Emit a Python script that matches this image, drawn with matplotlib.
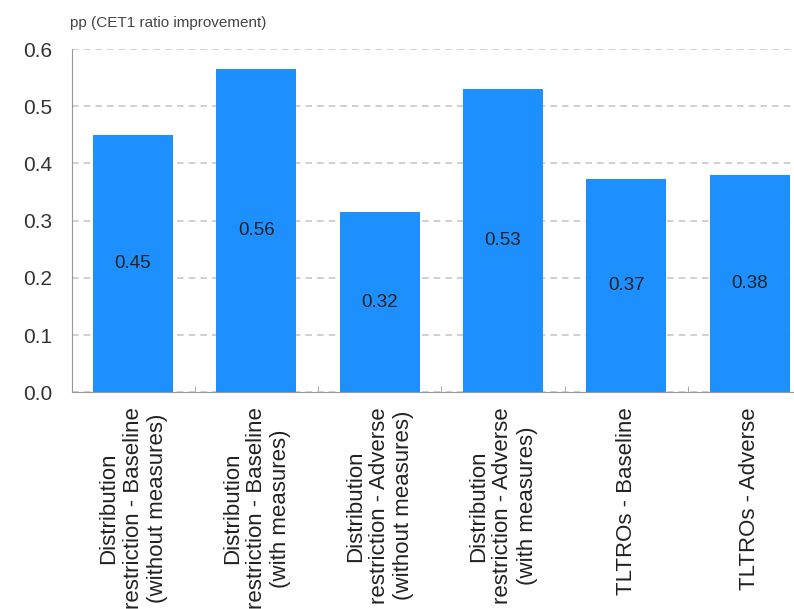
import matplotlib
matplotlib.use("Agg")
import matplotlib.pyplot as plt

plt.rcParams['font.family'] = ['Liberation Sans', 'DejaVu Sans']

# Chart data
categories = [
    "Distribution\nrestriction - Baseline\n(without measures)",
    "Distribution\nrestriction - Baseline\n(with measures)",
    "Distribution\nrestriction - Adverse\n(without measures)",
    "Distribution\nrestriction - Adverse\n(with measures)",
    "TLTROs - Baseline",
    "TLTROs - Adverse",
]
values = [0.45, 0.565, 0.315, 0.53, 0.372, 0.38]
labels = ["0.45", "0.56", "0.32", "0.53", "0.37", "0.38"]
yticks = [0.0, 0.1, 0.2, 0.3, 0.4, 0.5, 0.6]

fig = plt.figure(figsize=(7.94, 6.09), dpi=100)
ax = fig.add_axes([0.0907, 0.356, 0.9093, 0.5635])

x = list(range(len(categories)))
bars = ax.bar(x, values, width=0.65, color="#1e8fff", zorder=3)

for xi, v, lab in zip(x, values, labels):
    ax.text(xi, v / 2, lab, ha="center", va="center", fontsize=13.5, color="#222222", zorder=4)

ax.set_ylim(0, 0.6)
ax.set_xlim(-0.495, 5.36)
ax.set_yticks(yticks)
ax.set_yticklabels([f"{t:.1f}" for t in yticks], fontsize=15, color="#333333")
ax.yaxis.grid(True, linestyle=(0, (4, 3)), color="#c8c8c8", linewidth=1.2, zorder=0)
ax.tick_params(axis="y", length=0, pad=14)

ax.set_xticks(x)
ax.set_xticklabels(categories, rotation=90, ha="center", va="top",
                   multialignment="center", fontsize=16, color="#222222",
                   linespacing=1.2)
ax.tick_params(axis="x", length=0, pad=11)
ax.set_xticks([i + 0.5 for i in range(len(categories) - 1)], minor=True)
ax.tick_params(axis="x", which="minor", length=4, color="#999999", direction="in")

for side in ["top", "right"]:
    ax.spines[side].set_visible(False)
for side in ["left", "bottom"]:
    ax.spines[side].set_color("#999999")

fig.text(0.088, 0.955, "pp (CET1 ratio improvement)", fontsize=11, color="#444444")

fig.savefig("out.png", dpi=100)
